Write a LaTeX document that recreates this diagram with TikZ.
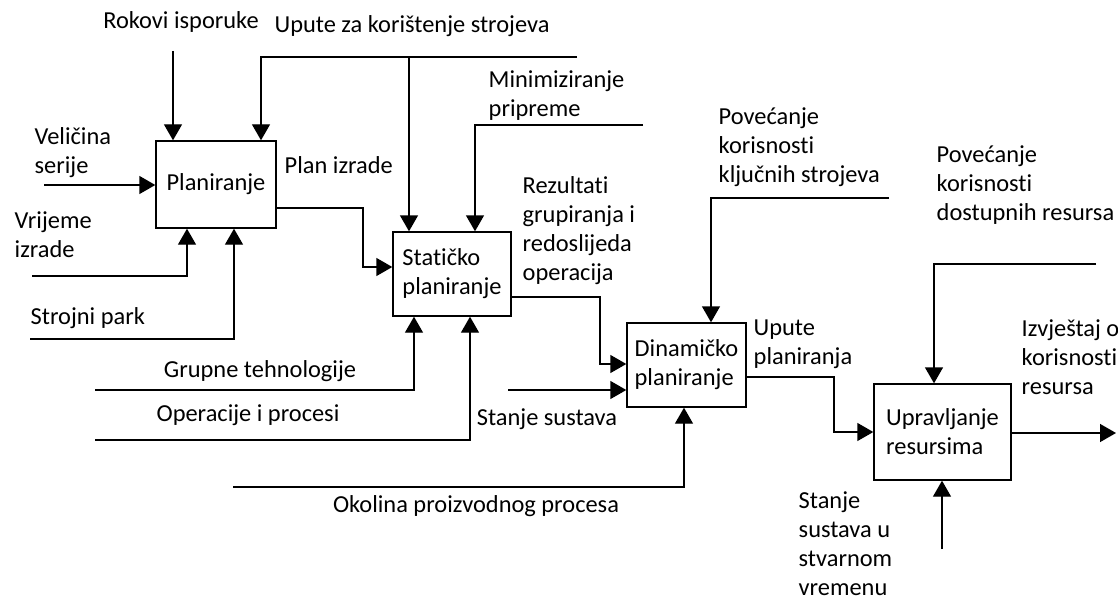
\documentclass[tikz,border=0pt]{standalone}
\usepackage{fontspec}
\setmainfont[Ligatures=NoCommon]{Carlito}
\usetikzlibrary{arrows.meta}

\begin{document}
\begin{tikzpicture}[x=0.5pt,y=-0.5pt,line width=0.7pt,
    every node/.style={inner sep=0pt,font=\fontsize{12.2}{14.5}\selectfont},
    box/.style={draw,align=left},
    lbl/.style={align=left,anchor=west},
    arr/.style={-{Triangle[length=8pt,width=9pt]}}]
	    \useasboundingbox (0,0) rectangle (1118,599);
	    \node [box,minimum width=60pt,minimum height=43.5pt] (plan) at (216,184.5) {Planiranje};
	    \node [box,minimum width=59pt,minimum height=42pt] (stat) at (452,274) {Statičko\\planiranje};
	    \node [box,minimum width=59.5pt,minimum height=42pt] (din) at (686.5,365) {Dinamičko\\planiranje};
	    \node [box,minimum width=68.5pt,minimum height=48pt] (upr) at (942.5,432) {Upravljanje\\resursima};
	    \node (rokL) at (181,22) {Rokovi isporuke};
	    \node (upL) at (412,26) {Upute za korištenje strojeva};
	    \node [lbl] (velL) at (34,153) {Veličina\\serije};
	    \node [lbl] (vriL) at (14,235) {Vrijeme\\izrade};
	    \node [lbl] (strL) at (30,318) {Strojni park};
	    \node [lbl] (planL) at (284,165) {Plan izrade};
	    \node [lbl] (minL) at (488,95.5) {Minimiziranje\\pripreme};
	    \node [lbl] (rezL) at (522,230.5) {Rezultati\\grupiranja i\\redoslijeda\\operacija};
	    \node (grL) at (260,371) {Grupne tehnologije};
	    \node (opL) at (248,415) {Operacije i procesi};
	    \node (stsL) at (547,419) {Stanje sustava};
	    \node (okL) at (476,506) {Okolina proizvodnog procesa};
	    \node [lbl] (pkL) at (718,147) {Povećanje\\korisnosti\\ključnih strojeva};
	    \node [lbl] (uptL) at (753,344.5) {Upute\\planiranja};
	    \node [lbl] (pdL) at (936,185) {Povećanje\\korisnosti\\dostupnih resursa};
	    \node [lbl] (izL) at (1021,357) {Izvještaj o\\korisnosti\\resursa};
	    \node [lbl] (ssL) at (798,544) {Stanje\\sustava u\\stvarnom\\vremenu};
	    \coordinate (rok) at (173,51);
	    \coordinate (upE) at (577,57);
	    \coordinate (upA) at (261,57);
	    \coordinate (upB) at (409,57);
	    \coordinate (vel) at (44,185);
	    \coordinate (vri) at (32,276);
	    \coordinate (vriB) at (187,276);
	    \coordinate (str) at (30,339);
	    \coordinate (strB) at (234,339);
	    \coordinate (pi) at (363,208);
	    \coordinate (pj) at (363,267);
	    \coordinate (min) at (643,125);
	    \coordinate (minB) at (475,125);
	    \coordinate (gr) at (95,390);
	    \coordinate (grB) at (414,390);
	    \coordinate (op) at (95,440);
	    \coordinate (opB) at (470,440);
	    \coordinate (so) at (600,297);
	    \coordinate (sp) at (600,364);
	    \coordinate (sts) at (508,390);
	    \coordinate (ok) at (233,487);
	    \coordinate (okB) at (684,487);
	    \coordinate (pk) at (889,198);
	    \coordinate (pkB) at (711,198);
	    \coordinate (dq) at (834,377);
	    \coordinate (dr) at (834,432);
	    \coordinate (pd) at (1096,264);
	    \coordinate (pdB) at (934,264);
	    \coordinate (izv) at (1116,433);
	    \coordinate (ss) at (942,549);
	    \draw [arr] (rok) -- (rok |- plan.north);
	    \draw [arr] (upE) -- (upA) -- (upA |- plan.north);
	    \draw [arr] (upB) -- (upB |- stat.north);
	    \draw [arr] (vel) -- (plan.west |- vel);
	    \draw [arr] (vri) -- (vriB) -- (vriB |- plan.south);
	    \draw [arr] (str) -- (strB) -- (strB |- plan.south);
	    \draw [arr] (plan.east |- pi) -- (pi) -- (pj) -- (stat.west |- pj);
	    \draw [arr] (min) -- (minB) -- (minB |- stat.north);
	    \draw [arr] (gr) -- (grB) -- (grB |- stat.south);
	    \draw [arr] (op) -- (opB) -- (opB |- stat.south);
	    \draw [arr] (stat.east |- so) -- (so) -- (sp) -- (din.west |- sp);
	    \draw [arr] (sts) -- (din.west |- sts);
	    \draw [arr] (ok) -- (okB) -- (okB |- din.south);
	    \draw [arr] (pk) -- (pkB) -- (pkB |- din.north);
	    \draw [arr] (din.east |- dq) -- (dq) -- (dr) -- (upr.west |- dr);
	    \draw [arr] (pd) -- (pdB) -- (pdB |- upr.north);
	    \draw [arr] (upr.east |- izv) -- (izv);
	    \draw [arr] (ss) -- (ss |- upr.south);
\end{tikzpicture}
\end{document}
